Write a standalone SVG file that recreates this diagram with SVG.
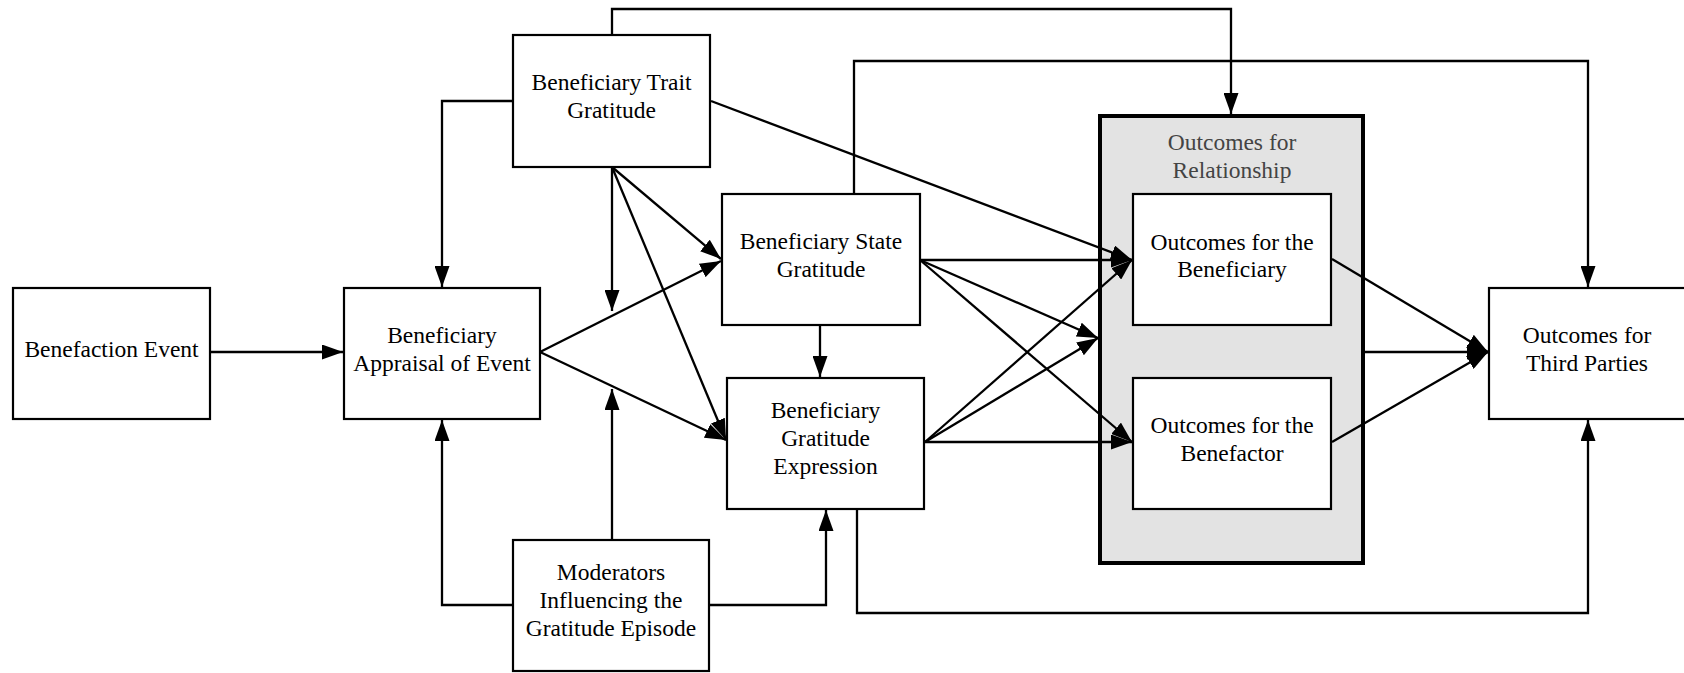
<svg xmlns="http://www.w3.org/2000/svg" width="1684" height="673" viewBox="0 0 1684 673">
<style>
.box{fill:#fff;stroke:#000;stroke-width:2.2}
.grp{fill:#e3e3e3;stroke:#000;stroke-width:4}
.t{font-family:"Liberation Serif","Times New Roman",serif;font-size:23.5px;fill:#000;text-anchor:middle}
.tg{fill:#444}
.c{fill:none;stroke:#000;stroke-width:2.3;marker-end:url(#ah)}
</style>
<defs>
<marker id="ah" markerUnits="userSpaceOnUse" markerWidth="21" markerHeight="15" refX="21" refY="7.5" orient="auto">
<path d="M0,0 L21,7.5 L0,15 z" fill="#000"/>
</marker>
</defs>
<rect width="1684" height="673" fill="#fff"/>
<g id="relationship">
<rect class="grp" x="1100" y="116" width="263" height="447"/>
<text class="t tg" x="1232" y="150">Outcomes for</text>
<text class="t tg" x="1232" y="178">Relationship</text>
</g>
<g id="connectors">
<path class="c" d="M211,352 H343"/>
<path class="c" d="M513,101 H442 V287"/>
<path class="c" d="M612,35 V9 H1231 V114"/>
<path class="c" d="M854,194 V61 H1588 V287"/>
<path class="c" d="M612,167 V311"/>
<path class="c" d="M612,167 L721,259"/>
<path class="c" d="M612,167 L726,440"/>
<path class="c" d="M540,352 L721,261"/>
<path class="c" d="M540,352 L726,440"/>
<path class="c" d="M612,540 V389"/>
<path class="c" d="M513,605 H442 V420"/>
<path class="c" d="M709,605 H826 V510"/>
<path class="c" d="M820,325 V377"/>
<path class="c" d="M857,509 V613 H1588 V420"/>
<path class="c" d="M711,101 L1132,260"/>
<path class="c" d="M920,260 H1132"/>
<path class="c" d="M920,260 L1098,338"/>
<path class="c" d="M920,260 L1132,442"/>
<path class="c" d="M925,442 L1132,260"/>
<path class="c" d="M925,442 L1098,338"/>
<path class="c" d="M925,442 H1132"/>
<path class="c" d="M1332,259 L1488,352"/>
<path class="c" d="M1365,352 H1488"/>
<path class="c" d="M1332,442 L1488,352"/>
</g>
<g id="benefaction">
<rect class="box" x="13" y="288" width="197" height="131"/>
<text class="t" x="111.5" y="357">Benefaction Event</text>
</g>
<g id="appraisal">
<rect class="box" x="344" y="288" width="196" height="131"/>
<text class="t" x="442" y="343">Beneficiary</text>
<text class="t" x="442" y="371">Appraisal of Event</text>
</g>
<g id="trait">
<rect class="box" x="513" y="35" width="197" height="132"/>
<text class="t" x="611.5" y="90">Beneficiary Trait</text>
<text class="t" x="611.5" y="118">Gratitude</text>
</g>
<g id="state">
<rect class="box" x="722" y="194" width="198" height="131"/>
<text class="t" x="821" y="249">Beneficiary State</text>
<text class="t" x="821" y="277">Gratitude</text>
</g>
<g id="expression">
<rect class="box" x="727" y="378" width="197" height="131"/>
<text class="t" x="825.5" y="418">Beneficiary</text>
<text class="t" x="825.5" y="446">Gratitude</text>
<text class="t" x="825.5" y="474">Expression</text>
</g>
<g id="moderators">
<rect class="box" x="513" y="540" width="196" height="131"/>
<text class="t" x="611" y="580">Moderators</text>
<text class="t" x="611" y="608">Influencing the</text>
<text class="t" x="611" y="636">Gratitude Episode</text>
</g>
<g id="beneficiary-outcomes">
<rect class="box" x="1133" y="194" width="198" height="131"/>
<text class="t" x="1232" y="250">Outcomes for the</text>
<text class="t" x="1232" y="277">Beneficiary</text>
</g>
<g id="benefactor-outcomes">
<rect class="box" x="1133" y="378" width="198" height="131"/>
<text class="t" x="1232" y="433">Outcomes for the</text>
<text class="t" x="1232" y="461">Benefactor</text>
</g>
<g id="third-parties">
<rect class="box" x="1489" y="288" width="197" height="131"/>
<text class="t" x="1587" y="343">Outcomes for</text>
<text class="t" x="1587" y="371">Third Parties</text>
</g>
</svg>
